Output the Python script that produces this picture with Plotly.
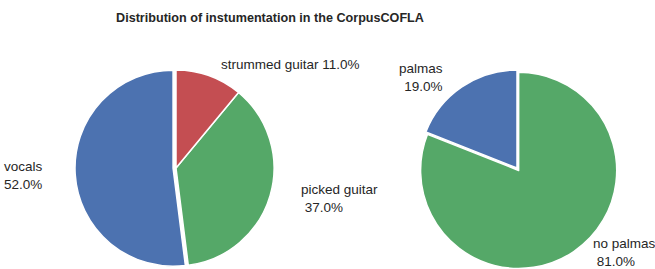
import math
import plotly.graph_objects as go

# ---------------- data ----------------
inst_labels = ["vocals", "picked guitar", "strummed guitar"]
inst_values = [52.0, 37.0, 11.0]
palmas_labels = ["palmas", "no palmas"]
palmas_values = [19.0, 81.0]
title_text = "Distribution of instumentation in the CorpusCOFLA"

# ---------------- style ----------------
W, H = 655, 269
BLUE, GREEN, RED = "#4C72B0", "#55A868", "#C44E52"
TXT = "#262626"
FONT = "Liberation Sans, Arial, sans-serif"

pies = [
    dict(labels=inst_labels, values=inst_values, colors=[BLUE, GREEN, RED],
         pull=[0.03, 0.0, 0.0], cx=176, cy=168,
         fmt=["{l}<br>{p:.1f}%", "{l}<br>\u00a0{p:.1f}%", "{l} {p:.1f}%"]),
    dict(labels=palmas_labels, values=palmas_values, colors=[BLUE, GREEN],
         pull=[0.0, 0.03], cx=517, cy=168,
         fmt=["{l}<br>\u00a0{p:.1f}%", "{l}<br>\u00a0{p:.1f}%"]),
]
RX, RY = 116, 100      # label geometry radii (px)
LABEL_DIST = 1.1
HALF_H = 101           # half height of pie box (px)
HALF_W = 112
LABEL_HALF_H = 16      # half height of a two-line label (px)

fig = go.Figure()
annotations = []
for p in pies:
    total = sum(p["values"])
    # first slice starts at 12 o'clock and runs counterclockwise
    rot = -360.0 * p["values"][0] / total
    if rot <= -180:
        rot += 360
    fig.add_trace(go.Pie(
        labels=p["labels"], values=p["values"], sort=False,
        direction="counterclockwise", rotation=rot, pull=p["pull"],
        marker=dict(colors=p["colors"], line=dict(color="white", width=1.5)),
        textinfo="none", hoverinfo="label+percent", showlegend=False,
        domain=dict(x=[(p["cx"] - HALF_W) / W, (p["cx"] + HALF_W) / W],
                    y=[(H - p["cy"] - HALF_H) / H, (H - p["cy"] + HALF_H) / H]),
    ))
    start = 90.0
    for lab, val, pl, fmt in zip(p["labels"], p["values"], p["pull"], p["fmt"]):
        span = 360.0 * val / total
        mid = math.radians(start + span / 2)
        start += span
        c, s = math.cos(mid), math.sin(mid)
        xp = p["cx"] + (LABEL_DIST + pl) * RX * c
        yp = p["cy"] - (LABEL_DIST + pl) * RY * s
        yp = min(yp, H - LABEL_HALF_H - 1)   # keep the label inside the picture
        annotations.append(dict(
            x=xp / W, y=1 - yp / H, xref="paper", yref="paper",
            text=fmt.format(l=lab, p=100 * val / total),
            showarrow=False, xanchor="left" if c > 0 else "right",
            yanchor="middle", align="left" if c > 0 else "right",
            font=dict(family=FONT, size=13.5, color=TXT),
        ))

fig.update_layout(
    width=W, height=H,
    margin=dict(l=0, r=0, t=0, b=0),
    paper_bgcolor="white", plot_bgcolor="white",
    title=dict(text="<b>" + title_text + "</b>", x=270 / W, xanchor="center",
               y=1 - 17.5 / H, yanchor="middle",
               font=dict(family=FONT, size=12.6, color=TXT)),
    annotations=annotations,
)

fig.write_html("out.html", config={"displayModeBar": False},
               post_script="document.body.style.margin='0px';")
